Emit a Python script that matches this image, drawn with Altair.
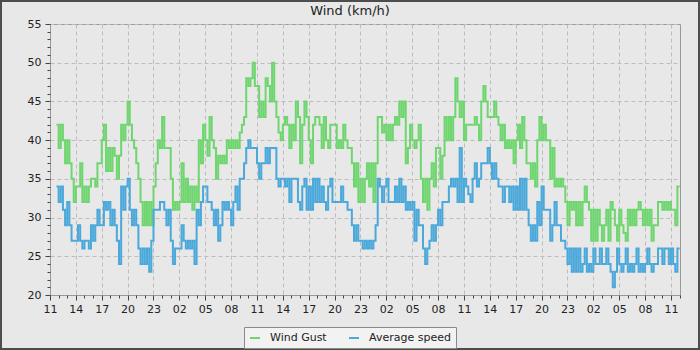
import altair as alt
import pandas as pd

# ---- data ----
start_offset_h = 0.75      # first sample, hours after the first tick (11:00)
step_h = 0.25              # sampling step in hours
tick_labels = ["11", "14", "17", "20", "23", "02", "05", "08"] * 3 + ["11"]
series_names = ["Wind Gust", "Average speed"]
series_colors = ["#6fd66f", "#4ba8da"]
chart_title = "Wind (km/h)"

gust = [42,
 39,42,40,37, 40,37,35,32, 34,34,37,32, 34,32,34,35, 35,34,37,37, 40,42,36,39, 36,39,38,35, 38,42,40,42,
 45,42,40,39, 37,35,32,29, 32,29,32,29, 34,37,40,39, 43,39,39,39, 35,31,32,31, 32,37,32,35, 32,34,31,34, 32,40,37,42,
 40,38,43,40, 39,35,38,37, 38,37,40,39, 40,39,40,39, 41,42,43,48, 47,48,50,47, 47,43,45,43, 48,47,45,50, 45,43,41,40,
 42,43,42,39, 42,40,45,43, 37,42,45,43, 40,37,42,43, 43,42,39,43, 40,39,42,42, 42,39,40,39, 42,40,39,39, 37,34,37,32,
 35,32,35,37, 34,37,32,37, 43,43,41,42, 40,42,40,42, 43,42,45,43, 45,37,39,42, 40,39,40,42, 35,32,35,31, 35,37,34,39,
 39,35,38,43, 40,43,40,43, 48,45,43,45, 40,42,42,42, 42,43,42,40, 45,47,45,43, 43,43,45,43, 42,40,42,39, 40,39,40,37,
 40,42,39,43, 40,37,37,35, 37,34,40,43, 40,42,40,40, 35,39,34,35, 34,35,34,32, 29,32,31,32, 29,32,29,32, 34,32,31,27,
 31,27,31,29, 27,29,31,27, 32,31,29,27, 31,29,28,27, 31,29,31,29, 31,32,31,29, 31,29,31,27, 29,29,32,32, 31,32,31,32, 31,31,29,34,
 34]

avg = [34,
 32,34,31,29, 32,29,27,27, 27,29,27,26, 27,27,26,29, 27,29,31,29, 29,32,31,32, 29,31,29,27, 24,34,31,34,
 35,31,29,31, 29,26,24,26, 24,26,23,27, 31,31,31,32, 32,31,29,31, 27,24,26,26, 26,29,27,26, 27,26,27,24, 31,29,32,34,
 34,32,32,31, 29,31,27,29, 32,31,32,31, 29,32,34,31, 35,35,37,39, 40,39,39,39, 37,35,37,37, 39,37,39,39, 39,35,34,35,
 35,34,35,32, 35,35,35,32, 31,34,35,31, 34,31,35,32, 35,32,34,32, 31,34,35,32, 32,32,32,34, 32,32,31,31, 29,27,29,27,
 27,26,27,26, 27,26,27,29, 35,34,32,34, 35,32,32,32, 34,32,35,32, 34,31,32,31, 32,27,31,29, 29,26,24,26, 27,29,27,29,
 31,29,32,32, 32,34,35,34, 35,32,39,32, 35,34,33,32, 35,37,34,35, 37,37,37,39, 37,35,37,35, 34,34,32,34, 34,32,34,31,
 34,31,35,31, 35,31,29,27, 29,27,32,29, 34,31,31,31, 27,29,32,29, 29,27,27,26, 24,26,23,26, 23,26,23,24, 26,23,24,23,
 26,24,24,26, 24,24,26,24, 23,21,23,26, 24,23,24,26, 23,24,23,24, 26,23,24,23, 24,26,24,23, 24,24,26,26, 24,26,26,24, 26,24,23,26,
 26]

hours = [start_offset_h + step_h * i for i in range(len(gust))]
df = pd.DataFrame({
    "h": hours + hours,
    "v": gust + avg,
    "s": [series_names[0]] * len(gust) + [series_names[1]] * len(avg),
})

FONT = "DejaVu Sans"
x_scale = alt.Scale(domain=[0, 73.05], nice=False, zero=False)
y_scale = alt.Scale(domain=[20, 55], nice=False, zero=False)
color_scale = alt.Scale(domain=series_names, range=series_colors)

label_expr = "[" + ",".join(f"'{l}'" for l in tick_labels) + "][round(datum.value / 3)]"

x_major = alt.Axis(values=list(range(0, 73, 3)), labelExpr=label_expr, title=None, orient="bottom",
                   grid=True, gridDash=[4, 3], gridColor="#bcbcbc", tickSize=5, tickColor="#444",
                   domainColor="#999999", labelFont=FONT, labelFontSize=11, labelColor="#222222",
                   labelPadding=3, labelFlush=False, labelOverlap=False)
y_major = alt.Axis(values=list(range(20, 56, 5)), title=None, orient="left",
                   grid=True, gridDash=[4, 3], gridColor="#bcbcbc", tickSize=5, tickColor="#444",
                   domainColor="#999999", labelFont=FONT, labelFontSize=11, labelColor="#222222",
                   labelPadding=4, labelOverlap=False)
x_minor = alt.Axis(values=list(range(0, 74)), labels=False, title=None, orient="bottom",
                   grid=False, domain=False, tickSize=3, tickColor="#444")
y_minor = alt.Axis(values=list(range(20, 56)), labels=False, title=None, orient="left",
                   grid=False, domain=False, tickSize=3, tickColor="#444")

legend = alt.Legend(title=None, orient="none", legendX=194, legendY=303, direction="horizontal",
                    symbolType="stroke", symbolStrokeWidth=2, symbolSize=100,
                    fillColor="#f2f2f2", strokeColor="#8a8a8a", padding=5, columnPadding=18,
                    labelOffset=9, labelFont=FONT, labelFontSize=11, labelColor="#222222")

base = alt.Chart(df)

gust_line = base.transform_filter(alt.datum.s == series_names[0]).mark_line(
    interpolate="step-after", strokeWidth=2
).encode(
    x=alt.X("h:Q", scale=x_scale, axis=x_major),
    y=alt.Y("v:Q", scale=y_scale, axis=y_major),
    color=alt.Color("s:N", scale=color_scale, legend=legend),
)

avg_line = base.transform_filter(alt.datum.s == series_names[1]).mark_line(
    interpolate="step-after", strokeWidth=2
).encode(
    x=alt.X("h:Q", scale=x_scale, axis=x_minor),
    y=alt.Y("v:Q", scale=y_scale, axis=y_minor),
    color=alt.Color("s:N", scale=color_scale, legend=legend),
)

frame = alt.Chart(pd.DataFrame({"k": [0]})).mark_rect(
    fillOpacity=0, stroke="#4d4d4d", strokeWidth=2
).encode(
    x=alt.value(-49), x2=alt.value(649), y=alt.value(-23), y2=alt.value(325)
)

title_text = alt.Chart(pd.DataFrame({"t": [chart_title]})).mark_text(
    font=FONT, fontSize=13, color="#222222", align="center", baseline="alphabetic"
).encode(
    text="t:N", x=alt.value(300), y=alt.value(-9)
)

chart = alt.layer(gust_line, avg_line, frame, title_text).resolve_scale(
    x="shared", y="shared", color="shared"
).resolve_axis(
    x="independent", y="independent"
).properties(
    width=630, height=271,
    autosize=alt.AutoSizeParams(type="none"),
    padding={"left": 50, "top": 24, "right": 20, "bottom": 55},
).configure(
    background="#e8e8e8"
).configure_view(
    stroke="#999999", fill="#e8e8e8"
)

chart.save("out.html", embed_options={"renderer": "svg", "actions": False})
